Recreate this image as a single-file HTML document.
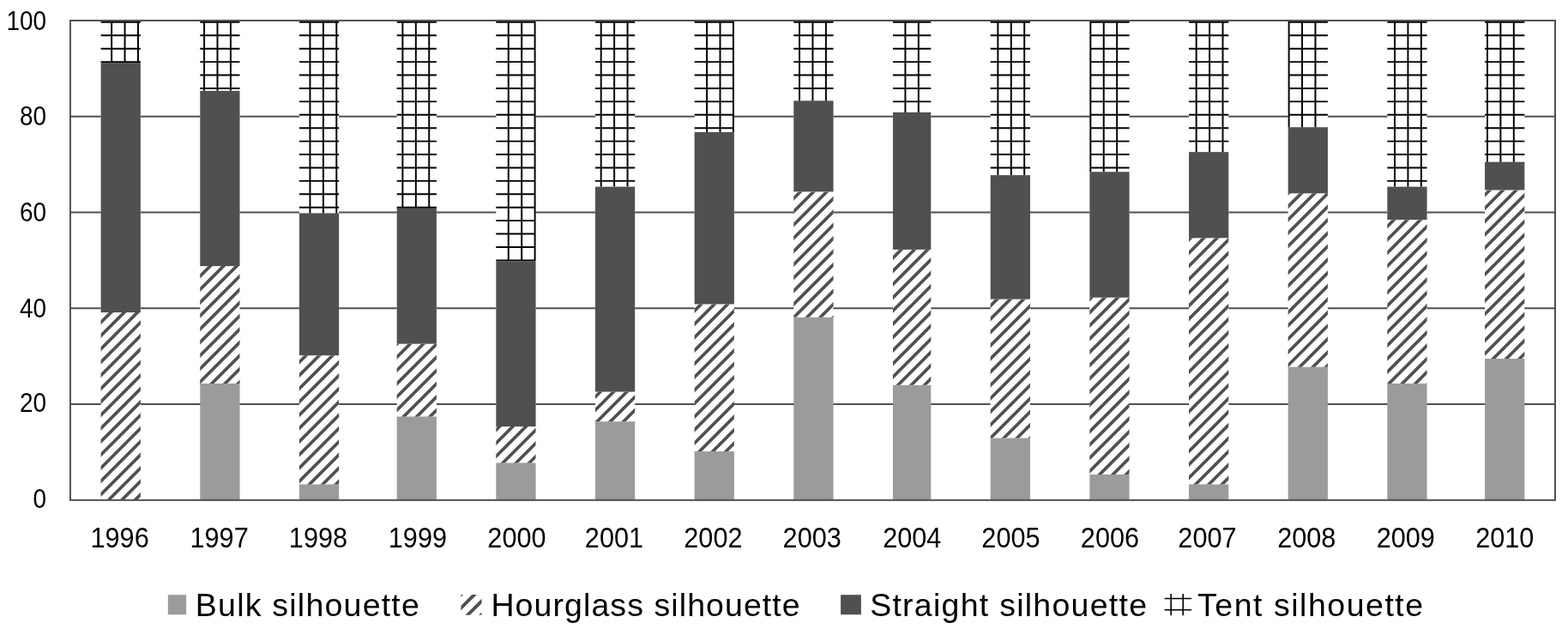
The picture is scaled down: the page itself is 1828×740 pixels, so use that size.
<!DOCTYPE html>
<html lang="en">
<head>
<meta charset="utf-8">
<title>Silhouette share by year, 1996-2010</title>
<style>
html,body{margin:0;padding:0;background:#fff;}
body{width:1828px;height:740px;overflow:hidden;}
svg{display:block;}
text{font-family:"Liberation Sans",sans-serif;fill:#000;}
</style>
</head>
<body>
<svg width="1828" height="740" viewBox="0 0 1828 740">
<rect width="1828" height="740" fill="#fff"/>
<defs>
<clipPath id="cHour">
<rect x="117.59" y="364.07" width="46.26" height="218.73"/>
<rect x="233.25" y="310.11" width="46.26" height="136.82"/>
<rect x="348.91" y="414.18" width="46.26" height="150.31"/>
<rect x="462.65" y="400.69" width="46.26" height="84.79"/>
<rect x="578.31" y="497.04" width="46.26" height="42.4"/>
<rect x="693.97" y="456.57" width="46.26" height="34.69"/>
<rect x="809.63" y="354.44" width="46.26" height="171.51"/>
<rect x="925.3" y="223.39" width="46.26" height="146.46"/>
<rect x="1040.96" y="290.84" width="44.34" height="158.02"/>
<rect x="1154.69" y="348.66" width="46.26" height="161.88"/>
<rect x="1270.35" y="346.73" width="46.26" height="206.2"/>
<rect x="1386.02" y="277.35" width="46.26" height="287.14"/>
<rect x="1501.68" y="225.32" width="46.26" height="202.35"/>
<rect x="1617.34" y="256.15" width="46.26" height="190.78"/>
<rect x="1731.07" y="221.47" width="46.26" height="196.56"/>
</clipPath>
</defs>
<g stroke="#4f4f4f" stroke-width="2" fill="none">
<line x1="81.93" y1="135.71" x2="1813" y2="135.71"/>
<line x1="81.93" y1="247.48" x2="1813" y2="247.48"/>
<line x1="81.93" y1="359.25" x2="1813" y2="359.25"/>
<line x1="81.93" y1="471.03" x2="1813" y2="471.03"/>
</g>
<g fill="#fff">
<rect x="117.59" y="24.94" width="46.26" height="557.36"/>
<rect x="233.25" y="24.94" width="46.26" height="421.5"/>
<rect x="348.91" y="24.94" width="46.26" height="539.05"/>
<rect x="462.65" y="24.94" width="46.26" height="460.04"/>
<rect x="578.31" y="24.94" width="46.26" height="514"/>
<rect x="693.97" y="24.94" width="46.26" height="465.82"/>
<rect x="809.63" y="24.94" width="46.26" height="500.51"/>
<rect x="925.3" y="24.94" width="46.26" height="344.41"/>
<rect x="1040.96" y="24.94" width="44.34" height="423.43"/>
<rect x="1154.69" y="24.94" width="46.26" height="485.09"/>
<rect x="1270.35" y="24.94" width="46.26" height="527.49"/>
<rect x="1386.02" y="24.94" width="46.26" height="539.05"/>
<rect x="1501.68" y="24.94" width="46.26" height="402.23"/>
<rect x="1617.34" y="24.94" width="46.26" height="421.5"/>
<rect x="1731.07" y="24.94" width="46.26" height="392.59"/>
</g>
<g fill="#9b9b9b">
<rect x="233.25" y="446.94" width="46.26" height="136.26"/>
<rect x="348.91" y="564.49" width="46.26" height="18.71"/>
<rect x="462.65" y="485.48" width="46.26" height="97.72"/>
<rect x="578.31" y="539.44" width="46.26" height="43.76"/>
<rect x="693.97" y="491.26" width="46.26" height="91.94"/>
<rect x="809.63" y="525.95" width="46.26" height="57.25"/>
<rect x="925.3" y="369.85" width="46.26" height="213.34"/>
<rect x="1040.96" y="448.86" width="44.34" height="134.33"/>
<rect x="1154.69" y="510.53" width="46.26" height="72.67"/>
<rect x="1270.35" y="552.93" width="46.26" height="30.27"/>
<rect x="1386.02" y="564.49" width="46.26" height="18.71"/>
<rect x="1501.68" y="427.67" width="46.26" height="155.53"/>
<rect x="1617.34" y="446.94" width="46.26" height="136.26"/>
<rect x="1731.07" y="418.03" width="46.26" height="165.17"/>
</g>
<g fill="#505050">
<rect x="117.59" y="73.08" width="46.26" height="290.99"/>
<rect x="233.25" y="105.84" width="46.26" height="204.27"/>
<rect x="348.91" y="248.45" width="46.26" height="165.73"/>
<rect x="462.65" y="242.66" width="46.26" height="158.02"/>
<rect x="578.31" y="304.33" width="46.26" height="192.71"/>
<rect x="693.97" y="217.61" width="46.26" height="238.96"/>
<rect x="809.63" y="154.02" width="46.26" height="200.42"/>
<rect x="925.3" y="117.4" width="46.26" height="105.99"/>
<rect x="1040.96" y="130.89" width="44.34" height="159.95"/>
<rect x="1154.69" y="204.12" width="46.26" height="144.53"/>
<rect x="1270.35" y="200.27" width="46.26" height="146.46"/>
<rect x="1386.02" y="177.14" width="46.26" height="100.21"/>
<rect x="1501.68" y="148.24" width="46.26" height="77.08"/>
<rect x="1617.34" y="217.61" width="46.26" height="38.54"/>
<rect x="1731.07" y="188.71" width="46.26" height="32.76"/>
</g>
<g clip-path="url(#cHour)"><path d="M10 -10 L-750 750 M25.42 -10 L-734.58 750 M40.84 -10 L-719.16 750 M56.26 -10 L-703.74 750 M71.68 -10 L-688.32 750 M87.1 -10 L-672.9 750 M102.52 -10 L-657.48 750 M117.94 -10 L-642.06 750 M133.36 -10 L-626.64 750 M148.78 -10 L-611.22 750 M164.2 -10 L-595.8 750 M179.62 -10 L-580.38 750 M195.04 -10 L-564.96 750 M210.46 -10 L-549.54 750 M225.88 -10 L-534.12 750 M241.3 -10 L-518.7 750 M256.72 -10 L-503.28 750 M272.14 -10 L-487.86 750 M287.56 -10 L-472.44 750 M302.98 -10 L-457.02 750 M318.4 -10 L-441.6 750 M333.82 -10 L-426.18 750 M349.24 -10 L-410.76 750 M364.66 -10 L-395.34 750 M380.08 -10 L-379.92 750 M395.5 -10 L-364.5 750 M410.92 -10 L-349.08 750 M426.34 -10 L-333.66 750 M441.76 -10 L-318.24 750 M457.18 -10 L-302.82 750 M472.6 -10 L-287.4 750 M488.02 -10 L-271.98 750 M503.44 -10 L-256.56 750 M518.86 -10 L-241.14 750 M534.28 -10 L-225.72 750 M549.7 -10 L-210.3 750 M565.12 -10 L-194.88 750 M580.54 -10 L-179.46 750 M595.96 -10 L-164.04 750 M611.38 -10 L-148.62 750 M626.8 -10 L-133.2 750 M642.22 -10 L-117.78 750 M657.64 -10 L-102.36 750 M673.06 -10 L-86.94 750 M688.48 -10 L-71.52 750 M703.9 -10 L-56.1 750 M719.32 -10 L-40.68 750 M734.74 -10 L-25.26 750 M750.16 -10 L-9.84 750 M765.58 -10 L5.58 750 M781 -10 L21 750 M796.42 -10 L36.42 750 M811.84 -10 L51.84 750 M827.26 -10 L67.26 750 M842.68 -10 L82.68 750 M858.1 -10 L98.1 750 M873.52 -10 L113.52 750 M888.94 -10 L128.94 750 M904.36 -10 L144.36 750 M919.78 -10 L159.78 750 M935.2 -10 L175.2 750 M950.62 -10 L190.62 750 M966.04 -10 L206.04 750 M981.46 -10 L221.46 750 M996.88 -10 L236.88 750 M1012.3 -10 L252.3 750 M1027.72 -10 L267.72 750 M1043.14 -10 L283.14 750 M1058.56 -10 L298.56 750 M1073.98 -10 L313.98 750 M1089.4 -10 L329.4 750 M1104.82 -10 L344.82 750 M1120.24 -10 L360.24 750 M1135.66 -10 L375.66 750 M1151.08 -10 L391.08 750 M1166.5 -10 L406.5 750 M1181.92 -10 L421.92 750 M1197.34 -10 L437.34 750 M1212.76 -10 L452.76 750 M1228.18 -10 L468.18 750 M1243.6 -10 L483.6 750 M1259.02 -10 L499.02 750 M1274.44 -10 L514.44 750 M1289.86 -10 L529.86 750 M1305.28 -10 L545.28 750 M1320.7 -10 L560.7 750 M1336.12 -10 L576.12 750 M1351.54 -10 L591.54 750 M1366.96 -10 L606.96 750 M1382.38 -10 L622.38 750 M1397.8 -10 L637.8 750 M1413.22 -10 L653.22 750 M1428.64 -10 L668.64 750 M1444.06 -10 L684.06 750 M1459.48 -10 L699.48 750 M1474.9 -10 L714.9 750 M1490.32 -10 L730.32 750 M1505.74 -10 L745.74 750 M1521.16 -10 L761.16 750 M1536.58 -10 L776.58 750 M1552 -10 L792 750 M1567.42 -10 L807.42 750 M1582.84 -10 L822.84 750 M1598.26 -10 L838.26 750 M1613.68 -10 L853.68 750 M1629.1 -10 L869.1 750 M1644.52 -10 L884.52 750 M1659.94 -10 L899.94 750 M1675.36 -10 L915.36 750 M1690.78 -10 L930.78 750 M1706.2 -10 L946.2 750 M1721.62 -10 L961.62 750 M1737.04 -10 L977.04 750 M1752.46 -10 L992.46 750 M1767.88 -10 L1007.88 750 M1783.3 -10 L1023.3 750 M1798.72 -10 L1038.72 750 M1814.14 -10 L1054.14 750 M1829.56 -10 L1069.56 750 M1844.98 -10 L1084.98 750 M1860.4 -10 L1100.4 750 M1875.82 -10 L1115.82 750 M1891.24 -10 L1131.24 750 M1906.66 -10 L1146.66 750 M1922.08 -10 L1162.08 750 M1937.5 -10 L1177.5 750 M1952.92 -10 L1192.92 750 M1968.34 -10 L1208.34 750 M1983.76 -10 L1223.76 750 M1999.18 -10 L1239.18 750 M2014.6 -10 L1254.6 750 M2030.02 -10 L1270.02 750 M2045.44 -10 L1285.44 750 M2060.86 -10 L1300.86 750 M2076.28 -10 L1316.28 750 M2091.7 -10 L1331.7 750 M2107.12 -10 L1347.12 750 M2122.54 -10 L1362.54 750 M2137.96 -10 L1377.96 750 M2153.38 -10 L1393.38 750 M2168.8 -10 L1408.8 750 M2184.22 -10 L1424.22 750 M2199.64 -10 L1439.64 750 M2215.06 -10 L1455.06 750 M2230.48 -10 L1470.48 750 M2245.9 -10 L1485.9 750 M2261.32 -10 L1501.32 750 M2276.74 -10 L1516.74 750 M2292.16 -10 L1532.16 750 M2307.58 -10 L1547.58 750 M2323 -10 L1563 750 M2338.42 -10 L1578.42 750 M2353.84 -10 L1593.84 750 M2369.26 -10 L1609.26 750 M2384.68 -10 L1624.68 750 M2400.1 -10 L1640.1 750 M2415.52 -10 L1655.52 750 M2430.94 -10 L1670.94 750 M2446.36 -10 L1686.36 750 M2461.78 -10 L1701.78 750 M2477.2 -10 L1717.2 750 M2492.62 -10 L1732.62 750 M2508.04 -10 L1748.04 750 M2523.46 -10 L1763.46 750 M2538.88 -10 L1778.88 750 M2554.3 -10 L1794.3 750 M2569.72 -10 L1809.72 750 M2585.14 -10 L1825.14 750" stroke="#505050" stroke-width="3.7" fill="none"/></g>
<path d="M130.12 23.94V73.08 M145.54 23.94V73.08 M160.96 23.94V73.08 M117.59 25.87H163.85 M117.59 41.28H163.85 M117.59 56.7H163.85 M117.59 72.12H163.85 M238.07 23.94V105.84 M253.49 23.94V105.84 M268.91 23.94V105.84 M233.25 25.87H279.52 M233.25 41.28H279.52 M233.25 56.7H279.52 M233.25 72.12H279.52 M233.25 87.53H279.52 M233.25 102.95H279.52 M361.44 23.94V248.45 M376.87 23.94V248.45 M392.29 23.94V248.45 M348.91 25.87H395.18 M348.91 41.28H395.18 M348.91 56.7H395.18 M348.91 72.12H395.18 M348.91 87.53H395.18 M348.91 102.95H395.18 M348.91 118.37H395.18 M348.91 133.78H395.18 M348.91 149.2H395.18 M348.91 164.62H395.18 M348.91 180.03H395.18 M348.91 195.45H395.18 M348.91 210.87H395.18 M348.91 226.28H395.18 M348.91 241.7H395.18 M469.39 23.94V242.66 M484.82 23.94V242.66 M500.24 23.94V242.66 M462.65 25.87H508.91 M462.65 41.28H508.91 M462.65 56.7H508.91 M462.65 72.12H508.91 M462.65 87.53H508.91 M462.65 102.95H508.91 M462.65 118.37H508.91 M462.65 133.78H508.91 M462.65 149.2H508.91 M462.65 164.62H508.91 M462.65 180.03H508.91 M462.65 195.45H508.91 M462.65 210.87H508.91 M462.65 226.28H508.91 M462.65 241.7H508.91 M592.77 23.94V304.33 M608.19 23.94V304.33 M623.61 23.94V304.33 M578.31 25.87H624.57 M578.31 41.28H624.57 M578.31 56.7H624.57 M578.31 72.12H624.57 M578.31 87.53H624.57 M578.31 102.95H624.57 M578.31 118.37H624.57 M578.31 133.78H624.57 M578.31 149.2H624.57 M578.31 164.62H624.57 M578.31 180.03H624.57 M578.31 195.45H624.57 M578.31 210.87H624.57 M578.31 226.28H624.57 M578.31 241.7H624.57 M578.31 257.12H624.57 M578.31 272.53H624.57 M578.31 287.95H624.57 M578.31 303.37H624.57 M700.72 23.94V217.61 M716.14 23.94V217.61 M731.56 23.94V217.61 M693.97 25.87H740.24 M693.97 41.28H740.24 M693.97 56.7H740.24 M693.97 72.12H740.24 M693.97 87.53H740.24 M693.97 102.95H740.24 M693.97 118.37H740.24 M693.97 133.78H740.24 M693.97 149.2H740.24 M693.97 164.62H740.24 M693.97 180.03H740.24 M693.97 195.45H740.24 M693.97 210.87H740.24 M824.09 23.94V154.02 M839.51 23.94V154.02 M854.93 23.94V154.02 M809.63 25.87H855.9 M809.63 41.28H855.9 M809.63 56.7H855.9 M809.63 72.12H855.9 M809.63 87.53H855.9 M809.63 102.95H855.9 M809.63 118.37H855.9 M809.63 133.78H855.9 M809.63 149.2H855.9 M932.04 23.94V117.4 M947.46 23.94V117.4 M962.89 23.94V117.4 M925.3 25.87H971.56 M925.3 41.28H971.56 M925.3 56.7H971.56 M925.3 72.12H971.56 M925.3 87.53H971.56 M925.3 102.95H971.56 M1055.42 23.94V130.89 M1070.84 23.94V130.89 M1040.96 25.87H1085.3 M1040.96 41.28H1085.3 M1040.96 56.7H1085.3 M1040.96 72.12H1085.3 M1040.96 87.53H1085.3 M1040.96 102.95H1085.3 M1040.96 118.37H1085.3 M1163.37 23.94V204.12 M1178.79 23.94V204.12 M1194.21 23.94V204.12 M1154.69 25.87H1200.96 M1154.69 41.28H1200.96 M1154.69 56.7H1200.96 M1154.69 72.12H1200.96 M1154.69 87.53H1200.96 M1154.69 102.95H1200.96 M1154.69 118.37H1200.96 M1154.69 133.78H1200.96 M1154.69 149.2H1200.96 M1154.69 164.62H1200.96 M1154.69 180.03H1200.96 M1154.69 195.45H1200.96 M1271.32 23.94V200.27 M1286.74 23.94V200.27 M1302.16 23.94V200.27 M1270.35 25.87H1316.62 M1270.35 41.28H1316.62 M1270.35 56.7H1316.62 M1270.35 72.12H1316.62 M1270.35 87.53H1316.62 M1270.35 102.95H1316.62 M1270.35 118.37H1316.62 M1270.35 133.78H1316.62 M1270.35 149.2H1316.62 M1270.35 164.62H1316.62 M1270.35 180.03H1316.62 M1270.35 195.45H1316.62 M1394.69 23.94V177.14 M1410.11 23.94V177.14 M1425.53 23.94V177.14 M1386.02 25.87H1432.28 M1386.02 41.28H1432.28 M1386.02 56.7H1432.28 M1386.02 72.12H1432.28 M1386.02 87.53H1432.28 M1386.02 102.95H1432.28 M1386.02 118.37H1432.28 M1386.02 133.78H1432.28 M1386.02 149.2H1432.28 M1386.02 164.62H1432.28 M1502.64 23.94V148.24 M1518.06 23.94V148.24 M1533.49 23.94V148.24 M1501.68 25.87H1547.94 M1501.68 41.28H1547.94 M1501.68 56.7H1547.94 M1501.68 72.12H1547.94 M1501.68 87.53H1547.94 M1501.68 102.95H1547.94 M1501.68 118.37H1547.94 M1501.68 133.78H1547.94 M1626.01 23.94V217.61 M1641.44 23.94V217.61 M1656.86 23.94V217.61 M1617.34 25.87H1663.61 M1617.34 41.28H1663.61 M1617.34 56.7H1663.61 M1617.34 72.12H1663.61 M1617.34 87.53H1663.61 M1617.34 102.95H1663.61 M1617.34 118.37H1663.61 M1617.34 133.78H1663.61 M1617.34 149.2H1663.61 M1617.34 164.62H1663.61 M1617.34 180.03H1663.61 M1617.34 195.45H1663.61 M1617.34 210.87H1663.61 M1733.97 23.94V188.71 M1749.39 23.94V188.71 M1764.81 23.94V188.71 M1731.07 25.87H1777.34 M1731.07 41.28H1777.34 M1731.07 56.7H1777.34 M1731.07 72.12H1777.34 M1731.07 87.53H1777.34 M1731.07 102.95H1777.34 M1731.07 118.37H1777.34 M1731.07 133.78H1777.34 M1731.07 149.2H1777.34 M1731.07 164.62H1777.34 M1731.07 180.03H1777.34" stroke="#000" stroke-width="1.95" fill="none"/>
<rect x="81.93" y="23.94" width="1731.07" height="558.86" stroke="#4f4f4f" stroke-width="2" fill="none"/>
<g font-size="31" text-anchor="end">
<text transform="translate(54,35) scale(0.9,1)">100</text>
<text transform="translate(54,146) scale(0.9,1)">80</text>
<text transform="translate(54,258) scale(0.9,1)">60</text>
<text transform="translate(54,370) scale(0.9,1)">40</text>
<text transform="translate(54,480) scale(0.9,1)">20</text>
<text transform="translate(54,592) scale(0.9,1)">0</text>
</g>
<g font-size="33" text-anchor="middle">
<text transform="translate(139.6,638) scale(0.93,1)">1996</text>
<text transform="translate(255.6,638) scale(0.93,1)">1997</text>
<text transform="translate(371,638) scale(0.93,1)">1998</text>
<text transform="translate(486.9,638) scale(0.93,1)">1999</text>
<text transform="translate(602.5,638) scale(0.93,1)">2000</text>
<text transform="translate(716,638) scale(0.93,1)">2001</text>
<text transform="translate(831.4,638) scale(0.93,1)">2002</text>
<text transform="translate(946.7,638) scale(0.93,1)">2003</text>
<text transform="translate(1063.3,638) scale(0.93,1)">2004</text>
<text transform="translate(1178.5,638) scale(0.93,1)">2005</text>
<text transform="translate(1294,638) scale(0.93,1)">2006</text>
<text transform="translate(1407.5,638) scale(0.93,1)">2007</text>
<text transform="translate(1523.3,638) scale(0.93,1)">2008</text>
<text transform="translate(1638.8,638) scale(0.93,1)">2009</text>
<text transform="translate(1754.3,638) scale(0.93,1)">2010</text>
</g>
<g font-size="37.5">
<rect x="195.8" y="693.2" width="21.3" height="23" fill="#9b9b9b"/>
<clipPath id="cs1"><rect x="537.4" y="692.9" width="24.1" height="23.9"/></clipPath>
<g clip-path="url(#cs1)"><path d="M550.3 680 L500.3 730 M566 680 L516 730 M582 680 L532 730 M597.7 680 L547.7 730" stroke="#505050" stroke-width="3.9" fill="none"/></g>
<rect x="980.1" y="693.2" width="23.8" height="23" fill="#505050"/>
<path d="M1357.7 697.5H1389M1357.7 710.8H1389M1365.2 692.1V717.3M1379.2 692.1V717.3" stroke="#000" stroke-width="1.6" fill="none"/>
<text x="227.87" y="717.9" letter-spacing="1.22">Bulk silhouette</text>
<text x="572.44" y="717.9" letter-spacing="1.08">Hourglass silhouette</text>
<text x="1014.16" y="717.9" letter-spacing="1.26">Straight silhouette</text>
<text x="1396.03" y="717.9" letter-spacing="1.52">Tent silhouette</text>
</g>
</svg>
</body>
</html>
